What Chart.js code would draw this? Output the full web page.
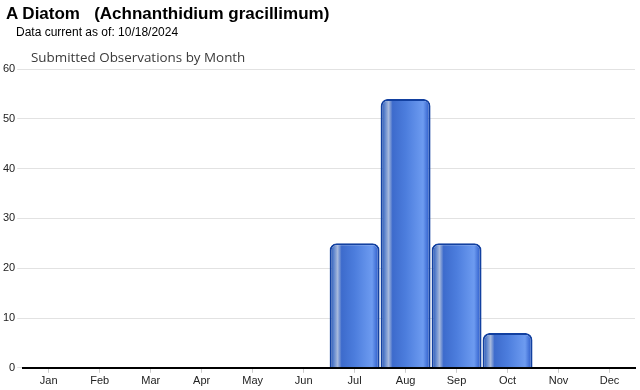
<!DOCTYPE html>
<html>
<head>
<meta charset="utf-8">
<script src="https://cdn.jsdelivr.net/npm/chart.js@4"></script>
<style>
	body { margin: 0; background: #fff; }
	#wrap { position: relative; width: 640px; height: 390px; }
	#head1 { position: absolute; left: 6px; top: 4px; font: bold 17px "Liberation Sans", Arial, sans-serif; color: #000; white-space: pre; }
	#head2 { position: absolute; left: 16px; top: 25px; font: 12px "Liberation Sans", Arial, sans-serif; color: #000; }
	#head3 { position: absolute; left: 31px; top: 48px; font: 13.4px "Open Sans", sans-serif; color: #3a3a3a; }
	#chart { position: absolute; left: 0; top: 0; }
</style>
</head>
<body>
<div id="wrap">
	<canvas id="chart" width="640" height="390"></canvas>
	<div id="head1">A Diatom   (Achnanthidium gracillimum)</div>
	<div id="head2">Data current as of: 10/18/2024</div>
	<div id="head3">Submitted Observations by Month</div>
</div>
<script>
var months = ["Jan", "Feb", "Mar", "Apr", "May", "Jun", "Jul", "Aug", "Sep", "Oct", "Nov", "Dec"];
var observations = [0, 0, 0, 0, 0, 0, 25, 54, 25, 7, 0, 0];
var yTicks = [0, 10, 20, 30, 40, 50, 60];

// horizontal "tube" shading for each bar
function barFill(context) {
	var chart = context.chart;
	var xs = chart.scales.x;
	if (!xs || !chart.chartArea) return '#3a6ad0';
	var cx = xs.getPixelForValue(context.dataIndex);
	var half = (xs.width / months.length) * 0.98 / 2;
	var g = chart.ctx.createLinearGradient(cx - half, 0, cx + half, 0);
	g.addColorStop(0, '#1d4db0');
	g.addColorStop(0.08, '#5b82cc');
	g.addColorStop(0.16, '#a7b9dc');
	g.addColorStop(0.24, '#3d6bcc');
	g.addColorStop(0.5, '#4c7ddd');
	g.addColorStop(0.85, '#6d9bf0');
	g.addColorStop(0.95, '#3a69d2');
	g.addColorStop(1, '#1a48a8');
	return g;
}

var ctx = document.getElementById("chart");
var barGraph = new Chart(ctx, {
	type: 'bar',
	data: {
		labels: months,
		datasets: [
			{
				label: 'Observations',
				data: observations,
				backgroundColor: barFill,
				borderColor: '#1240a0',
				borderWidth: 2,
				borderRadius: { topLeft: 7, topRight: 7 },
				borderSkipped: 'bottom',
				barPercentage: 0.98,
				categoryPercentage: 1
			}
		]
	},
	options: {
		responsive: false,
		animation: false,
		layout: { padding: { top: 69, right: 5, left: 1, bottom: 0 } },
		plugins: {
			legend: { display: false },
			tooltip: { enabled: false }
		},
		scales: {
			x: {
				grid: { display: true, drawOnChartArea: false, drawTicks: true, tickLength: 5, color: '#ccc', offset: false },
				border: { display: true, color: '#000', width: 2 },
				ticks: { color: '#222', font: { family: 'Liberation Sans', size: 11 }, padding: 2 }
			},
			y: {
				min: 0,
				max: 60,
				afterBuildTicks: function(axis) {
					axis.ticks = yTicks.map(function(v) { return { value: v }; });
				},
				grid: { color: '#e2e2e2', drawTicks: true, tickLength: 6 },
				border: { display: false },
				ticks: { color: '#222', font: { family: 'Liberation Sans', size: 11 }, padding: 2 }
			}
		}
	}
});
</script>
</body>
</html>
